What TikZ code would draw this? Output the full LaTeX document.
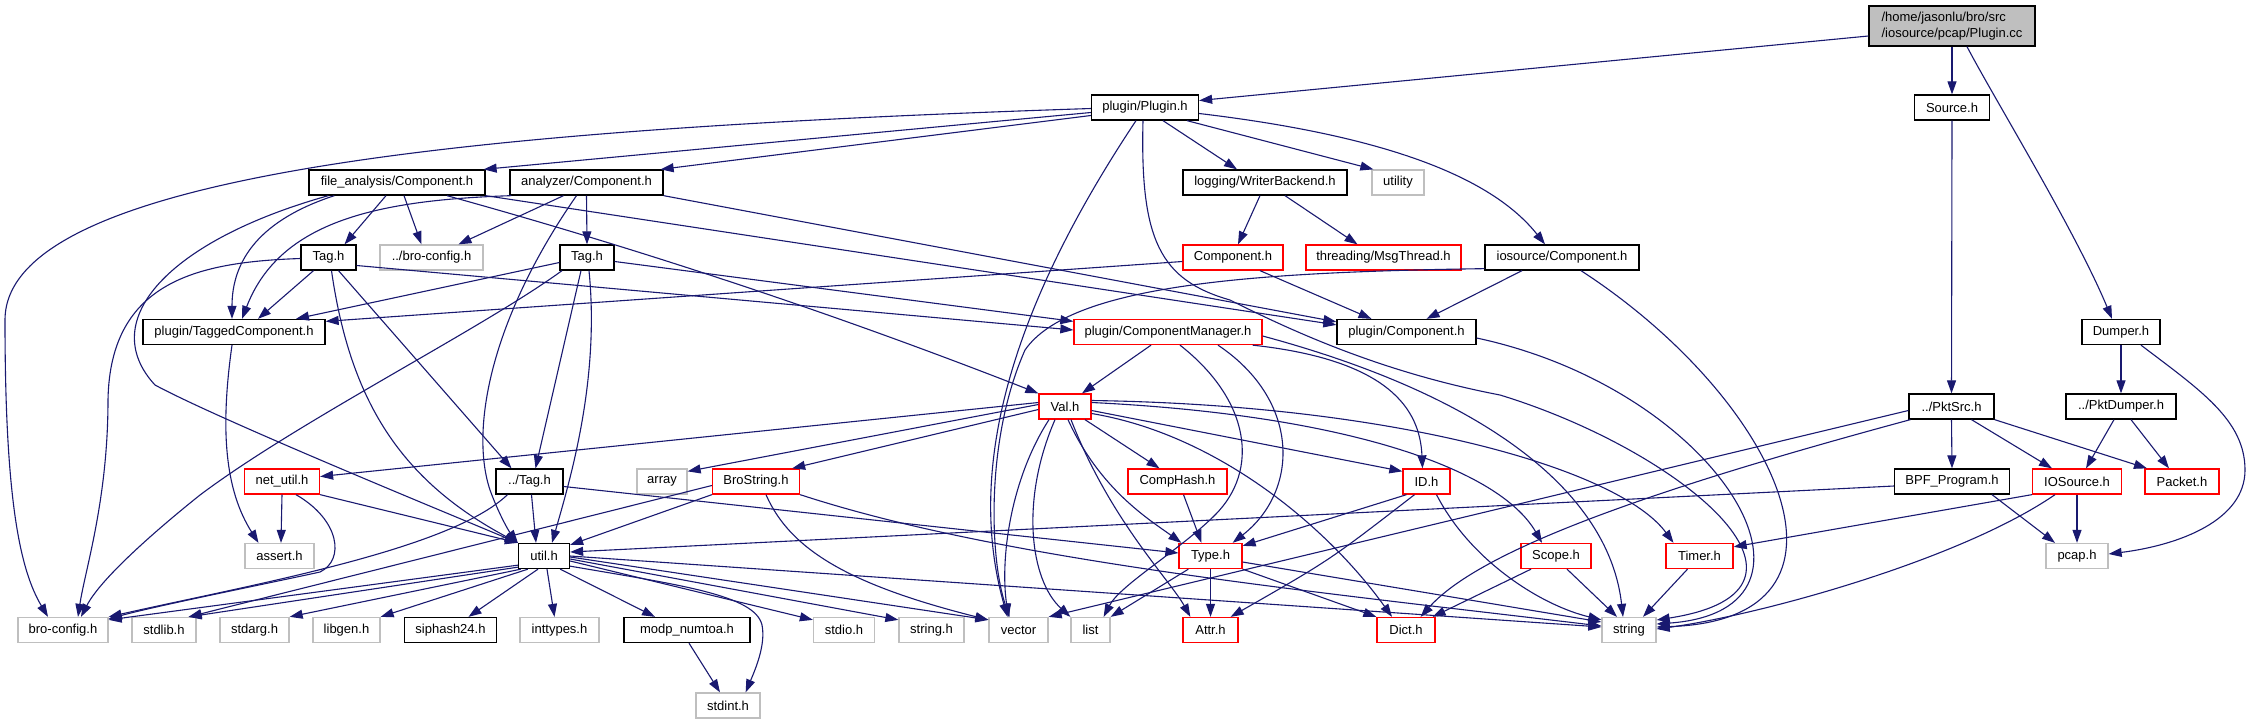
\documentclass[tikz,border=0pt]{standalone}
\usepackage{fontspec}
\setmainfont{Liberation Sans}
\usetikzlibrary{arrows.meta}
\definecolor{edgec}{HTML}{191970}
\definecolor{gbd}{HTML}{BFBFBF}
\definecolor{ccfill}{HTML}{BFBFBF}
\begin{document}
\begin{tikzpicture}[x=1pt,y=-1pt,
  box/.style={draw=black, line width=1.3pt, fill=white, minimum height=25pt, inner sep=0pt, font=\fontsize{13}{15.4}\selectfont, text=black},
  gbox/.style={box, draw=gbd},
  rbox/.style={box, draw=red},
  dep/.style={draw=edgec, line width=1.1pt, -{Triangle[length=13pt,width=9pt]}}]
\useasboundingbox (0,0) rectangle (2247,724);
\fill[white] (0,0) rectangle (2247,724);
% nodes
\node[box, fill=ccfill, minimum width=166pt, minimum height=40pt, align=left] (cc) at (1952,26) {/home/jasonlu/bro/src\\/iosource/pcap/Plugin.cc};
\node[box, minimum width=107pt] (PH) at (1145,107.5) {plugin/Plugin.h};
\node[box, minimum width=75pt] (Src) at (1952,107.5) {Source.h};
\node[box, minimum width=176pt] (FAC) at (397,182.5) {file\_analysis/Component.h};
\node[box, minimum width=153pt] (AC) at (586.5,182.5) {analyzer/Component.h};
\node[box, minimum width=164pt] (WB) at (1265,182.5) {logging/WriterBackend.h};
\node[gbox, minimum width=52pt] (utl) at (1398,182.5) {utility};
\node[box, minimum width=55pt] (TagL) at (328.5,257.5) {Tag.h};
\node[gbox, minimum width=103pt] (BC2) at (431.5,257.5) {../bro-config.h};
\node[box, minimum width=54pt] (TagR) at (587,257.5) {Tag.h};
\node[rbox, minimum width=100pt] (CompR) at (1233,257.5) {Component.h};
\node[rbox, minimum width=155pt] (MT) at (1383.5,257.5) {threading/MsgThread.h};
\node[box, minimum width=154pt] (IOC) at (1562,257.5) {iosource/Component.h};
\node[box, minimum width=182pt] (PTC) at (234,332) {plugin/TaggedComponent.h};
\node[rbox, minimum width=188pt] (PCM) at (1168,332) {plugin/ComponentManager.h};
\node[box, minimum width=139pt] (PC) at (1406.5,332) {plugin/Component.h};
\node[box, minimum width=78pt] (Dmp) at (2121,332) {Dumper.h};
\node[rbox, minimum width=52pt] (Val) at (1065,406.5) {Val.h};
\node[box, minimum width=85pt] (PktSrc) at (1951.5,406.5) {../PktSrc.h};
\node[box, minimum width=110pt] (PktD) at (2121,406.5) {../PktDumper.h};
\node[rbox, minimum width=75pt] (NU) at (282,481.5) {net\_util.h};
\node[box, minimum width=67pt] (TagU) at (529.5,481.5) {../Tag.h};
\node[gbox, minimum width=50pt] (arr) at (662,481.5) {array};
\node[rbox, minimum width=87pt] (BS) at (756,481.5) {BroString.h};
\node[rbox, minimum width=99pt] (CH) at (1177.5,481.5) {CompHash.h};
\node[rbox, minimum width=47pt] (ID) at (1426.5,481.5) {ID.h};
\node[box, minimum width=115pt] (BPF) at (1952,481.5) {BPF\_Program.h};
\node[rbox, minimum width=89pt] (IOS) at (2077,481.5) {IOSource.h};
\node[rbox, minimum width=74pt] (Pkt) at (2182,481.5) {Packet.h};
\node[gbox, minimum width=69pt] (asrt) at (279.5,556) {assert.h};
\node[box, minimum width=51pt] (util) at (544,556) {util.h};
\node[rbox, minimum width=63pt] (Type) at (1210.5,556) {Type.h};
\node[rbox, minimum width=70pt] (Scope) at (1556,556) {Scope.h};
\node[rbox, minimum width=67pt] (Timer) at (1699.5,556) {Timer.h};
\node[gbox, minimum width=62pt] (pcap) at (2077,556) {pcap.h};
\node[gbox, minimum width=90pt] (BC) at (63,630) {bro-config.h};
\node[gbox, minimum width=64pt] (stdlib) at (164,630) {stdlib.h};
\node[gbox, minimum width=69pt] (stdarg) at (254.5,630) {stdarg.h};
\node[gbox, minimum width=67pt] (libgen) at (346.5,630) {libgen.h};
\node[box, minimum width=92pt] (sip) at (450.5,630) {siphash24.h};
\node[gbox, minimum width=79pt] (intt) at (559.5,630) {inttypes.h};
\node[box, minimum width=126pt] (modp) at (687,630) {modp\_numtoa.h};
\node[gbox, minimum width=61pt] (stdio) at (844,630) {stdio.h};
\node[gbox, minimum width=65pt] (strh) at (931.5,630) {string.h};
\node[gbox, minimum width=59pt] (vec) at (1018.5,630) {vector};
\node[gbox, minimum width=39pt] (list) at (1090.5,630) {list};
\node[rbox, minimum width=55pt] (Attr) at (1210.5,630) {Attr.h};
\node[rbox, minimum width=58pt] (Dict) at (1406,630) {Dict.h};
\node[gbox, minimum width=54pt] (str) at (1629,630) {string};
\node[gbox, minimum width=64pt] (stdint) at (728,705.5) {stdint.h};
% edges from Plugin.cc
\draw[dep] ([yshift=-10pt]cc.west) -- ([yshift=7pt]PH.east);
\draw[dep] (cc.south) -- (Src.north);
\draw[dep] ([xshift=15pt]cc.south) .. controls (1995,100) and (2075,230) .. ([xshift=-9pt]Dmp.north);
\draw[dep] (Src.south) -- (PktSrc.north);
\draw[dep] (Dmp.south) -- (PktD.north);
\draw[dep] ([xshift=20pt]Dmp.south) .. controls (2200,390) and (2245,420) .. (2245,470) .. controls (2245,520) and (2180,545) .. ([yshift=2pt]pcap.east);
\draw[dep] ([xshift=-7pt]PktD.south) -- ([xshift=9pt]IOS.north);
\draw[dep] ([xshift=10pt]PktD.south) -- ([xshift=-13pt]Pkt.north);
\draw[dep] (PktSrc.south) -- (BPF.north);
\draw[dep] ([xshift=20pt]PktSrc.south) -- ([xshift=-25pt]IOS.north);
\draw[dep] (PktSrc.south east) -- ([xshift=-35pt]Pkt.north);
\draw[dep] ([yshift=-4pt]PktSrc.west) -- (vec.north east);
\draw[dep] ([xshift=2pt]PktSrc.south west) .. controls (1650,490) and (1480,550) .. ([xshift=-15pt]Dict.north east);
\draw[dep] ([yshift=-4.5pt]BPF.west) -- ([yshift=4pt]util.east);
\draw[dep] ([xshift=40pt]BPF.south) -- ([xshift=-22pt]pcap.north);
\draw[dep] (IOS.south) -- (pcap.north);
\draw[dep] (IOS.south west) -- ([yshift=-4pt]Timer.north east);
\draw[dep] ([xshift=-22pt]IOS.south) .. controls (1960,560) and (1760,615) .. ([yshift=1pt]str.east);
\draw[dep] ([xshift=-12pt]Timer.south) -- ([xshift=14pt]str.north);
\draw[dep] ([xshift=11pt]Scope.south) -- ([xshift=-12pt]str.north);
\draw[dep] ([xshift=-25pt]Scope.south) -- ([xshift=-3pt]Dict.north east);
% ID
\draw[dep] ([xshift=-20pt]ID.south) -- ([yshift=-3pt]Type.north east);
\draw[dep] ([xshift=-12pt]ID.south) .. controls (1330,560) .. ([xshift=-8pt]Attr.north east);
\draw[dep] ([xshift=10pt]ID.south) .. controls (1470,560) and (1540,605) .. ([yshift=-3pt]str.north west);
% Val
\draw[dep] ([yshift=4pt]Val.west) -- ([yshift=5pt]NU.east);
\draw[dep] ([yshift=2pt]Val.west) -- ([yshift=-3pt]arr.north east);
\draw[dep] ([yshift=-3pt]Val.west) -- ([xshift=-8pt]BS.north east);
\draw[dep] ([xshift=20pt]Val.south) -- ([xshift=-18pt]CH.north);
\draw[dep] ([yshift=-4pt]Val.east) -- ([yshift=-3pt]ID.north west);
\draw[dep] ([xshift=3pt]Val.south) .. controls (1100,490) and (1150,520) .. ([xshift=3pt]Type.north west);
\draw[dep] ([xshift=6pt]Val.south) .. controls (1110,520) and (1170,580) .. ([xshift=8pt]Attr.north west);
\draw[dep] ([yshift=-7pt]Val.east) .. controls (1220,435) and (1330,530) .. ([xshift=-14pt]Dict.north);
\draw[dep] ([yshift=4pt]Val.east) .. controls (1350,415) and (1500,470) .. ([xshift=-14pt]Scope.north);
\draw[dep] ([yshift=6pt]Val.east) .. controls (1400,405) and (1620,470) .. ([xshift=-26pt]Timer.north);
\draw[dep] ([xshift=-16pt]Val.south) .. controls (1010,480) and (1000,560) .. ([xshift=-10pt]vec.north);
\draw[dep] ([xshift=-10pt]Val.south) .. controls (1020,500) and (1030,580) .. (list.north west);
% PCM
\draw[dep] ([xshift=-17pt]PCM.south) -- ([xshift=17pt]Val.north);
\draw[dep] ([xshift=12pt]PCM.south) .. controls (1250,400) and (1260,470) .. (1215,515) .. controls (1180,550) and (1120,585) .. ([xshift=-7pt]list.north east);
\draw[dep] ([xshift=50pt]PCM.south) .. controls (1300,400) and (1300,490) .. ([xshift=-10pt]Type.north east);
\draw[dep] ([xshift=-10pt]PCM.south east) .. controls (1390,360) and (1420,410) .. ([xshift=-4pt]ID.north);
\draw[dep] ([yshift=-4pt]PCM.east) .. controls (1500,400) and (1610,500) .. ([xshift=-6pt]str.north);
% long curves into string
\draw[dep] ([yshift=-6pt]PC.east) .. controls (1720,390) and (1850,610) .. ([yshift=6pt]str.east);
\draw[dep] ([xshift=19pt]IOC.south) .. controls (1780,400) and (1880,620) .. ([yshift=3pt]str.east);
\draw[dep] ([xshift=-2pt]PH.south) .. controls (1140,240) and (1160,280) .. (1230,300) .. controls (1290,330) and (1380,372) .. (1500,395) .. controls (1680,450) and (1850,590) .. ([yshift=10pt]str.east);
% Plugin.h
\draw[dep] ([yshift=-5pt]PH.west) -- ([xshift=-2pt]FAC.north east);
\draw[dep] ([yshift=-8pt]PH.west) -- ([xshift=-3pt]AC.north east);
\draw[dep] ([yshift=-1pt]PH.west) .. controls (500,128) and (5,170) .. (5,320) .. controls (5,500) and (20,570) .. ([xshift=-15pt]BC.north);
\draw[dep] ([xshift=18pt]PH.south) -- ([xshift=-28pt]WB.north);
\draw[dep] ([xshift=42pt]PH.south) -- ([xshift=2pt]utl.north west);
\draw[dep] ([yshift=-6pt]PH.east) .. controls (1380,135) and (1490,175) .. ([xshift=-17pt]IOC.north);
\draw[dep] ([xshift=-9pt]PH.south) .. controls (1030,280) and (960,450) .. ([xshift=-11pt]vec.north);
% WriterBackend, Component.h, iosource
\draw[dep] ([xshift=-5pt]WB.south) -- ([xshift=5pt]CompR.north);
\draw[dep] ([xshift=20pt]WB.south) -- ([xshift=-26pt]MT.north);
\draw[dep] ([xshift=27pt]CompR.south) -- ([xshift=-35pt]PC.north);
\draw[dep] ([yshift=-4pt]CompR.west) -- ([yshift=-2.5pt]PTC.north east);
\draw[dep] ([xshift=-40pt]IOC.south) -- ([xshift=20pt]PC.north);
\draw[dep] ([yshift=2pt]IOC.south west) .. controls (1250,272) and (1070,285) .. (1025,350) .. controls (985,440) and (990,560) .. ([xshift=-9pt]vec.north);
% file_analysis/Component.h
\draw[dep] ([xshift=-11pt]FAC.south) -- ([xshift=16pt]TagL.north);
\draw[dep] ([xshift=7pt]FAC.south) -- ([xshift=-10pt]BC2.north);
\draw[dep] ([xshift=26pt]FAC.south west) .. controls (260,220) and (232,260) .. ([xshift=-2pt]PTC.north);
\draw[dep] ([xshift=20pt]FAC.south west) .. controls (170,240) and (95,320) .. (155,385) .. controls (220,420) and (440,510) .. (util.north west);
\draw[dep] ([xshift=50pt]FAC.south) .. controls (600,238) and (800,300) .. (Val.north west);
\draw[dep] (FAC.south east) -- ([yshift=-6pt]PC.north west);
% analyzer/Component.h
\draw[dep] (AC.south) -- (TagR.north);
\draw[dep] ([xshift=-23pt]AC.south) -- ([xshift=27pt]BC2.north);
\draw[dep] ([xshift=2pt]AC.south west) .. controls (380,200) and (280,220) .. ([xshift=8pt]PTC.north);
\draw[dep] ([xshift=-10pt]AC.south) .. controls (490,320) and (470,430) .. (490,490) .. controls (498,512) and (508,530) .. (util.north west);
\draw[dep] (AC.south east) -- ([yshift=-3pt]PC.north west);
% Tag.h (left)
\draw[dep] ([xshift=-15pt]TagL.south) -- ([xshift=24pt]PTC.north);
\draw[dep] ([yshift=-1pt]TagL.west) .. controls (200,262) and (110,280) .. (108,400) .. controls (108,500) and (85,570) .. ([xshift=15pt]BC.north);
\draw[dep] ([xshift=3pt]TagL.south) .. controls (350,400) and (400,480) .. (util.north west);
\draw[dep] ([xshift=10pt]TagL.south) -- ([xshift=-18pt]TagU.north);
\draw[dep] ([yshift=-8pt]TagL.east) -- ([yshift=2pt]PCM.west);
% Tag.h (right)
\draw[dep] ([yshift=-5pt]TagR.west) -- ([xshift=62pt]PTC.north);
\draw[dep] ([xshift=-25pt]TagR.south) .. controls (480,330) and (300,420) .. (200,495) .. controls (150,535) and (100,580) .. ([xshift=18pt]BC.north);
\draw[dep] ([xshift=-6pt]TagR.south) -- ([xshift=6pt]TagU.north);
\draw[dep] ([xshift=2pt]TagR.south) .. controls (600,380) and (570,480) .. ([xshift=8pt]util.north);
\draw[dep] ([yshift=-4pt]TagR.east) -- ([yshift=-2.5pt]PCM.north west);
% ../Tag.h
\draw[dep] ([xshift=-22pt]TagU.south) .. controls (450,550) and (250,585) .. (BC.north east);
\draw[dep] ([xshift=2pt]TagU.south) -- ([xshift=-8pt]util.north);
\draw[dep] ([yshift=-5pt]TagU.east) -- ([yshift=3pt]Type.west);
% TaggedComponent
\draw[dep] ([xshift=-2pt]PTC.south) .. controls (220,430) and (225,490) .. ([xshift=-21pt]asrt.north);
% net_util.h
\draw[dep] (NU.south) -- ([xshift=1.5pt]asrt.north);
\draw[dep] (NU.south east) -- (util.north west);
\draw[dep] ([xshift=14pt]NU.south) .. controls (340,520) and (345,560) .. (320,572) .. controls (270,583) and (160,605) .. ([yshift=-2pt]BC.north east);
% BroString.h
\draw[dep] (BS.south west) -- ([yshift=-2pt]util.north east);
\draw[dep] ([yshift=-4pt]BS.west) -- ([xshift=-8pt]stdlib.north east);
\draw[dep] ([xshift=10pt]BS.south) .. controls (790,550) and (850,585) .. ([yshift=-3pt]vec.north west);
\draw[dep] (BS.south east) .. controls (1000,560) and (1300,590) .. ([yshift=4pt]str.west);
% CompHash, Type
\draw[dep] ([xshift=6pt]CH.south) -- ([xshift=-9pt]Type.north);
\draw[dep] (Type.south) -- (Attr.north);
\draw[dep] ([xshift=10pt]Type.south west) -- (list.north east);
\draw[dep] (Type.south east) -- (Dict.north west);
\draw[dep] ([yshift=-6pt]Type.east) -- ([yshift=8pt]str.west);
% util.h
\draw[dep] ([yshift=4pt]util.south west) -- ([yshift=-3pt]BC.north east);
\draw[dep] ([yshift=2pt]util.south west) -- ([xshift=-8pt]stdlib.north east);
\draw[dep] ([xshift=3pt]util.south west) -- (stdarg.north east);
\draw[dep] ([xshift=10pt]util.south west) -- (libgen.north east);
\draw[dep] ([xshift=-6pt]util.south) -- ([xshift=18pt]sip.north);
\draw[dep] ([xshift=3pt]util.south) -- ([xshift=-5pt]intt.north);
\draw[dep] ([xshift=-10pt]util.south east) -- ([xshift=-32pt]modp.north);
\draw[dep] ([yshift=-5pt]util.east) -- ([yshift=-3pt]stdio.north west);
\draw[dep] ([yshift=-3pt]util.east) -- ([yshift=-3pt]strh.north west);
\draw[dep] ([yshift=-1pt]util.east) -- ([yshift=-3pt]vec.north west);
\draw[dep] (util.east) -- ([yshift=3pt]str.west);
\draw[dep] ([yshift=3pt]util.south east) .. controls (680,585) and (755,595) .. (762,625) .. controls (766,645) and (755,670) .. ([xshift=-15pt]stdint.north east);
\draw[dep] ([xshift=2pt]modp.south) -- ([xshift=-8pt]stdint.north);
\end{tikzpicture}
\end{document}
